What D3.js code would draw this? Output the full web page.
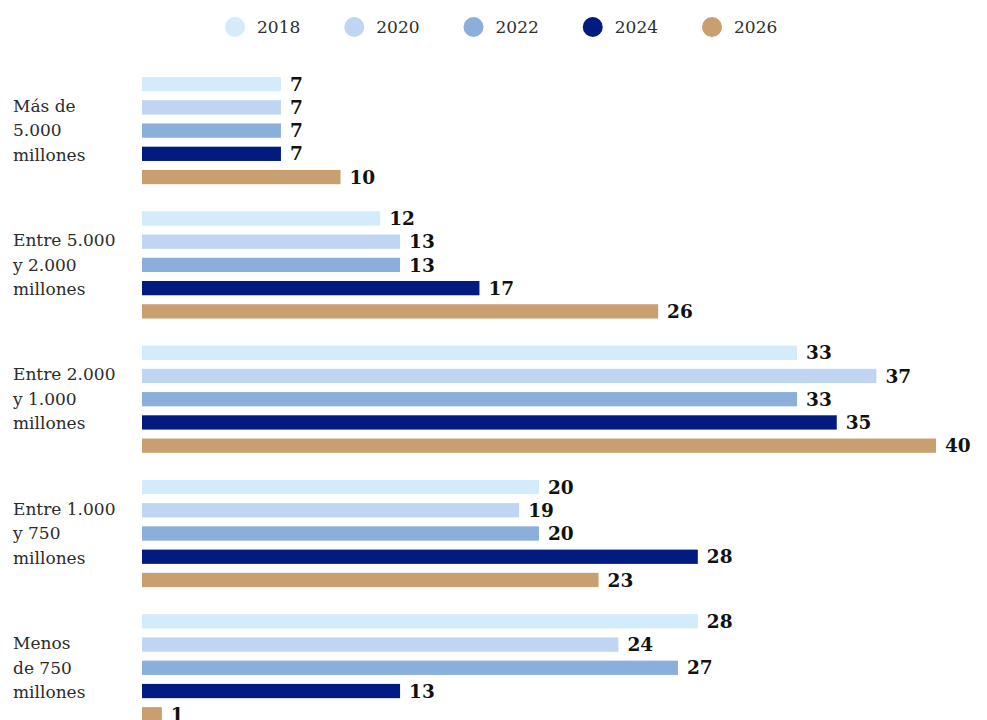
<!DOCTYPE html>
<html>
<head>
<meta charset="utf-8">
<script src="https://cdn.jsdelivr.net/npm/d3@7"></script>
<style>
  body { margin: 0; background: #fff; }
  svg { display: block; }
  .cat { font-family: "DejaVu Serif", serif; font-size: 17px; fill: #2b2b2b; }
  .val { font-family: "DejaVu Serif", serif; font-size: 18.5px; font-weight: bold; fill: #111; }
  .leg { font-family: "DejaVu Serif", serif; font-size: 17px; fill: #2e2e2e; }
</style>
</head>
<body>
<svg id="chart" width="987" height="720"></svg>
<script>
; (function () {

    // categories (top to bottom) and their wrapped labels
    var categories = ["mas5000", "5000a2000", "2000a1000", "1000a750", "menos750"]
    var categoryLines = [
        ["Más de", "5.000", "millones"],
        ["Entre 5.000", "y 2.000", "millones"],
        ["Entre 2.000", "y 1.000", "millones"],
        ["Entre 1.000", "y 750", "millones"],
        ["Menos", "de 750", "millones"]
    ]

    var years = ["2018", "2020", "2022", "2024", "2026"]
    var colors = ["#d3ebfa", "#c0d5f1", "#8aafdb", "#021b80", "#c99f6f"]

    // one array per year, same order as categories
    var v2018 = [7, 12, 33, 20, 28]
    var v2020 = [7, 13, 37, 19, 24]
    var v2022 = [7, 13, 33, 20, 27]
    var v2024 = [7, 17, 35, 28, 13]
    var v2026 = [10, 26, 40, 23, 1]
    var series = [v2018, v2020, v2022, v2024, v2026]

    var svg = d3.select("#chart")

    var x = d3.scaleLinear()
        .domain([0, 40])
        .range([142, 936])

    var groupStep = 134.3
    var y0 = d3.scaleBand()
        .domain(categories)
        .range([77, 77 + groupStep * categories.length])

    var y1 = d3.scaleBand()
        .domain(years)
        .range([0, 107.2])
        .paddingInner(0.386)

    var color = d3.scaleOrdinal().domain(years).range(colors)

    // legend
    var legX = d3.scalePoint()
        .domain(years)
        .range([235, 712])

    var leg = svg.append("g").selectAll("g")
        .data(years)
        .enter().append("g")
        .attr("transform", function (d) { return "translate(" + legX(d) + ",27)" })

    leg.append("ellipse")
        .attr("rx", 10)
        .attr("ry", 10)
        .attr("fill", function (d) { return color(d) })

    leg.append("text")
        .attr("class", "leg")
        .attr("x", 22)
        .attr("dy", "0.35em")
        .text(function (d) { return d })

    // groups
    var groups = svg.append("g").selectAll("g")
        .data(categories)
        .enter().append("g")
        .attr("transform", function (d) { return "translate(0," + y0(d) + ")" })

    groups.append("text")
        .attr("class", "cat")
        .attr("x", 13)
        .attr("y", y1("2022") + y1.bandwidth() / 2)
        .selectAll("tspan")
        .data(function (d, i) { return categoryLines[i] })
        .enter().append("tspan")
        .attr("x", 13)
        .attr("dy", function (d, i) { return i === 0 ? "-1.1em" : "1.44em" })
        .text(function (d) { return d })

    var bars = groups.selectAll("g.bar")
        .data(function (d, i) {
            return years.map(function (yr, j) { return { year: yr, value: series[j][i] } })
        })
        .enter().append("g")
        .attr("class", "bar")

    bars.append("rect")
        .attr("x", x(0))
        .attr("y", function (d) { return y1(d.year) })
        .attr("width", function (d) { return x(d.value) - x(0) })
        .attr("height", y1.bandwidth())
        .attr("fill", function (d) { return color(d.year) })

    bars.append("text")
        .attr("class", "val")
        .attr("x", function (d) { return x(d.value) + 9 })
        .attr("y", function (d) { return y1(d.year) + y1.bandwidth() / 2 })
        .attr("dy", "0.36em")
        .text(function (d) { return d.value })

})();
</script>
</body>
</html>
